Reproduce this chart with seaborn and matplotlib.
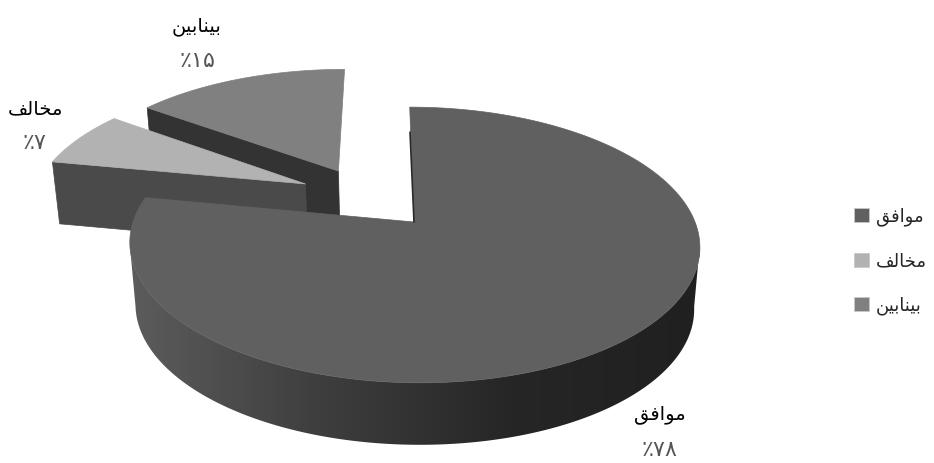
import numpy as np
import matplotlib
matplotlib.use("Agg")
import matplotlib.pyplot as plt
from matplotlib.patches import Patch, Polygon
import seaborn as sns

# labels are in visual order with shaped letters, matplotlib does not join Arabic script
labels = ["\ufed6\ufed3\ufe8d\ufeee\ufee3",
          "\ufed2\ufedf\ufe8e\ufea8\ufee3",
          "\ufee6\ufbff\ufe91\ufe8e\ufee8\ufbff\ufe91"]
values = [78, 7, 15]
pct_labels = ["٪۷۸", "٪۷", "٪۱۵"]
top_colors = ["#606060", "#b2b2b2", "#808080"]
cut_colors = ["#2a2a2a", "#4a4a4a", "#333333"]
# how far each slice is pulled out, in pie radii
offsets = [(0.0, 0.0), (-0.40, 0.298), (-0.28, 0.406)]

cx, cy = 414, 222
rx, ry = 281, 134
persp = 1 / 6
depth = 62
shrink = 0.98

sns.set_theme(style="white")
plt.rcParams["font.family"] = ["DejaVu Sans"]


def project(X, Y):
    d = 1 + persp * Y
    return cx + rx * X / d - 5 * Y / d, cy - ry * Y / d


def lower(x, y):
    return cx + (x - cx) * shrink, y + depth


def arc(start, end, off):
    ang = np.radians(np.linspace(start, end, 400))
    return project(off[0] + np.cos(ang), off[1] + np.sin(ang))


fig = plt.figure(figsize=(9.34, 4.63), dpi=100)
ax = fig.add_axes([0, 0, 1, 1])

ends = 90 - np.cumsum(values) * 3.6
starts = np.r_[90, ends[:-1]]

# back slices first, the big slice last so it covers them
for i, corner in [(2, starts[2]), (1, starts[1])]:
    apex_x, apex_y = project(*offsets[i])
    px, py = arc(corner, corner, offsets[i])
    bx0, by0 = lower(apex_x, apex_y)
    bx1, by1 = lower(px[0], py[0])
    ax.fill([apex_x, px[0], bx1, bx0], [apex_y, py[0], by1, by0], color=cut_colors[i], lw=0.5)
    arc_x, arc_y = arc(starts[i], ends[i], offsets[i])
    ax.fill(np.r_[apex_x, arc_x], np.r_[apex_y, arc_y], color=top_colors[i], lw=0.5)

# side wall of the big slice, between its widest points, gradient clipped to the shape
wall_x, wall_y = arc(-9.6, -170.4, offsets[0])
low_x, low_y = lower(wall_x, wall_y)
wall = Polygon(np.c_[np.r_[wall_x, low_x[::-1]], np.r_[wall_y, low_y[::-1]]],
               transform=ax.transData, fc="none", ec="none")
ax.add_patch(wall)
side = sns.blend_palette(["#5c5c5c", "#3e3e3e", "#262626", "#202020"], 256)
img = ax.imshow(np.array(side)[None, :, :], extent=[130, 700, 463, 0], aspect="auto")
img.set_clip_path(wall)

apex_x, apex_y = project(*offsets[0])
arc_x, arc_y = arc(starts[0], ends[0], offsets[0])
ax.fill(np.r_[apex_x, arc_x], np.r_[apex_y, arc_y], color=top_colors[0], lw=0.5)
ax.plot([arc_x[0] + 0.3, apex_x], [arc_y[0] + 25, apex_y], color=cut_colors[0], lw=1.2)

label_pos = [(660, 414, 450), (35, 109, 143), (197, 27, 61)]
for lab, pct, (x, y1, y2) in zip(labels, pct_labels, label_pos):
    ax.text(x, y1, lab, ha="center", va="center", fontsize=14, color="black")
    ax.text(x, y2, pct, ha="center", va="center", fontsize=16, color="#555555")

handles = [Patch(facecolor=c, edgecolor="#c8c8c8", lw=0.6) for c in top_colors]
ax.legend(handles, labels, loc="center left", bbox_to_anchor=(854 / 934, 1 - 261 / 463),
          frameon=False, fontsize=13, handlelength=0.85, handleheight=0.85,
          handletextpad=0.35, labelspacing=1.45, borderpad=0, borderaxespad=0)

ax.set_xlim(0, 934)
ax.set_ylim(463, 0)
ax.axis("off")

fig.savefig("out.png", dpi=100)
